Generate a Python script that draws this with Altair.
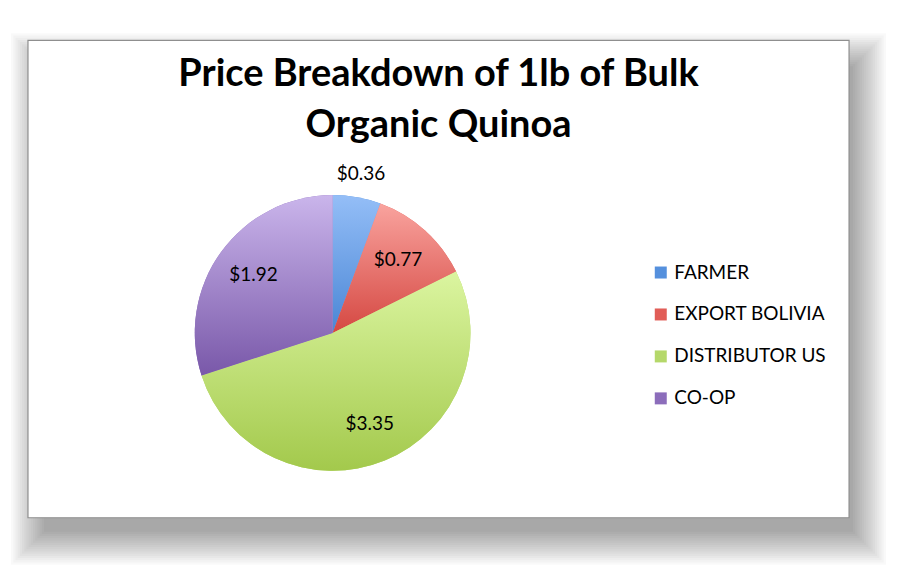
import altair as alt
import pandas as pd

categories = ["FARMER", "EXPORT BOLIVIA", "DISTRIBUTOR US", "CO-OP"]
prices = [0.36, 0.77, 3.35, 1.92]
price_labels = ["$0.36", "$0.77", "$3.35", "$1.92"]
legend_colors = ["#5590DD", "#E15D57", "#B5D86A", "#8C6DBB"]
grad_top = ["#94BEF7", "#F9A39E", "#DBF5A0", "#CAB5EB"]
grad_bottom = ["#4A86D5", "#D54842", "#A3C94C", "#7958A9"]

FONT = "Lato"
W, H = 822, 478
CX, CY, R = 305, 293, 138

df = pd.DataFrame({"cat": categories, "value": prices, "label": price_labels,
                   "idx": list(range(len(categories)))})
total = sum(prices)

base = (
    alt.Chart(df)
    .transform_window(end="sum(value)", sort=[alt.SortField("idx")], frame=[None, 0])
    .transform_calculate(start="datum.end - datum.value",
                         mid="datum.end - datum.value / 2")
)
theta_scale = alt.Scale(domain=[0, total], zero=True)

one = alt.Data(values=[{"o": 1}])

# soft drop shadow (stacked translucent rectangles) and the white chart box
shadow_layers = []
for k in range(16):
    s = 2.2 * k
    shadow_layers.append(
        alt.Chart(one).mark_rect(color="#000000", opacity=0.022).encode(
            x=alt.value(16 - s), x2=alt.value(W + 4 + s),
            y=alt.value(26 - s), y2=alt.value(H + 14 + s)
        )
    )
box = alt.Chart(one).mark_rect(fill="white", stroke="#8f8f8f", strokeWidth=1.2).encode(
    x=alt.value(0), x2=alt.value(W), y=alt.value(0), y2=alt.value(H)
)

# solid arcs provide the legend
solid = base.mark_arc(radius=R).encode(
    theta=alt.Theta("start:Q", scale=theta_scale),
    theta2="end:Q",
    color=alt.Color(
        "cat:N",
        scale=alt.Scale(domain=categories, range=legend_colors),
        sort=categories,
        legend=alt.Legend(
            title=None, orient="none", legendX=624, legendY=223,
            symbolType="square", symbolSize=144, symbolStrokeWidth=0,
            labelFont=FONT, labelFontSize=19, labelColor="black",
            labelOffset=4, rowPadding=22, symbolOpacity=1,
        ),
    ),
    x=alt.value(CX), y=alt.value(CY),
)

grad_layers = []
for c, t, b in zip(categories, grad_top, grad_bottom):
    g = alt.LinearGradient(
        gradient="linear",
        stops=[alt.GradientStop(color=t, offset=0), alt.GradientStop(color=b, offset=1)],
        x1=0, x2=0, y1=0, y2=1,
    )
    grad_layers.append(
        base.transform_filter(alt.datum.cat == c)
        .mark_arc(radius=R, fill=g)
        .encode(theta=alt.Theta("start:Q", scale=theta_scale), theta2="end:Q",
                x=alt.value(CX), y=alt.value(CY))
    )

texts = (
    base.transform_calculate(r="datum.value < 0.5 ? 162 : 98")
    .mark_text(font=FONT, fontSize=19, color="black")
    .encode(
        theta=alt.Theta("mid:Q", scale=theta_scale),
        radius=alt.Radius("r:Q", scale=None),
        text="label:N",
        x=alt.value(CX), y=alt.value(CY),
    )
)

chart = (
    alt.layer(*shadow_layers, box, solid, *grad_layers, texts)
    .properties(
        width=W, height=H,
        autosize=alt.AutoSizeParams(type="none"),
        padding={"left": 20, "top": 32, "right": 50, "bottom": 50},
        background="white",
        title=alt.TitleParams(
            ["Price Breakdown of 1lb of Bulk", "Organic Quinoa"],
            font=FONT, fontSize=38, fontWeight="bold", color="black",
            anchor="middle", frame="group", offset=-112, lineHeight=51,
        ),
    )
    .configure_view(stroke=None)
)

chart.save("out.html", embed_options={"renderer": "svg", "actions": False})
